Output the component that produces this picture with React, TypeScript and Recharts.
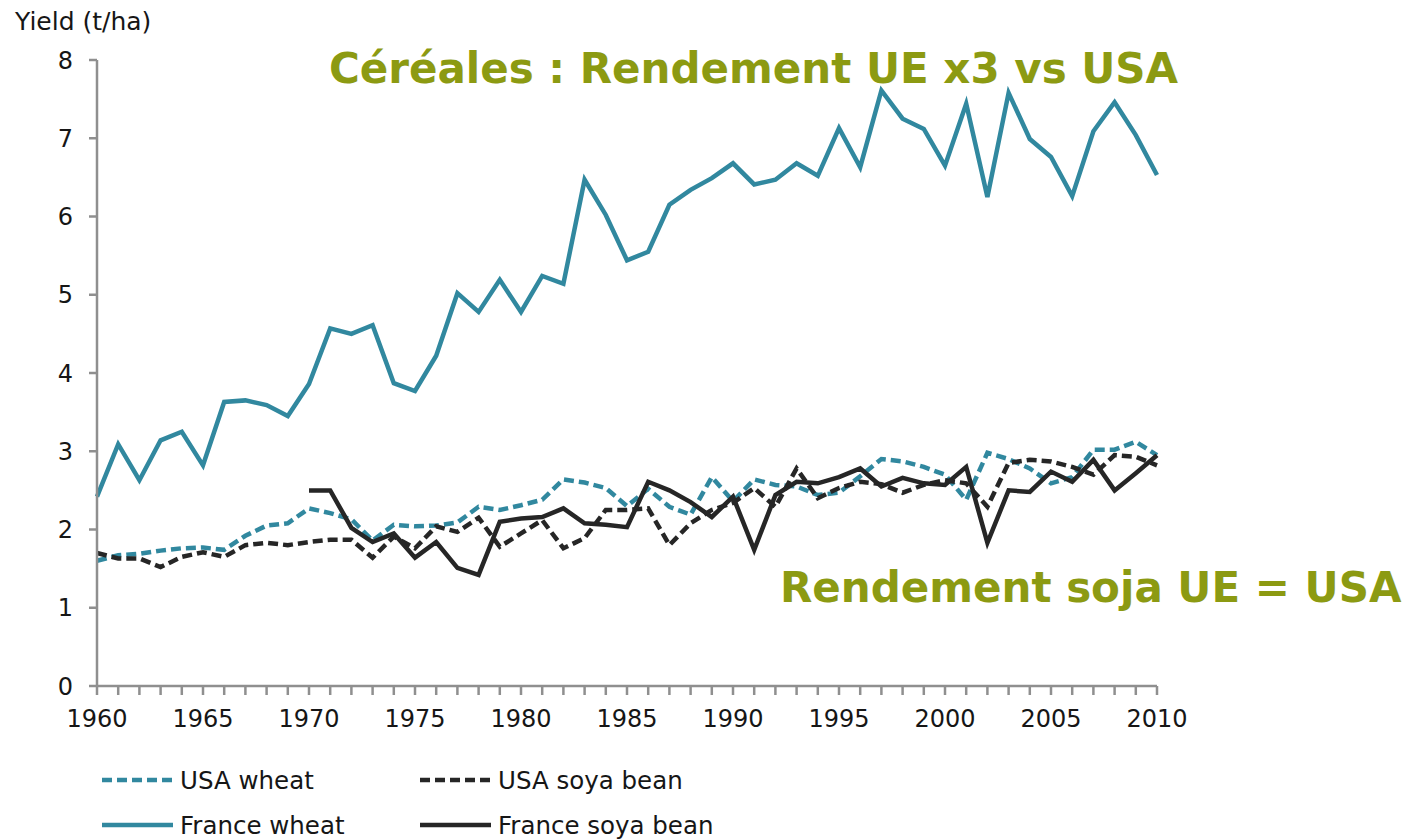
import React from 'react'
import { LineChart, Line, XAxis, YAxis } from 'recharts'

// categories
const years = [
  1960, 1961, 1962, 1963, 1964, 1965, 1966, 1967, 1968, 1969,
  1970, 1971, 1972, 1973, 1974, 1975, 1976, 1977, 1978, 1979,
  1980, 1981, 1982, 1983, 1984, 1985, 1986, 1987, 1988, 1989,
  1990, 1991, 1992, 1993, 1994, 1995, 1996, 1997, 1998, 1999,
  2000, 2001, 2002, 2003, 2004, 2005, 2006, 2007, 2008, 2009, 2010,
]

// yields in t/ha
const usaWheat = [
  1.6, 1.67, 1.69, 1.73, 1.76, 1.77, 1.74, 1.92, 2.05, 2.08,
  2.27, 2.21, 2.13, 1.86, 2.06, 2.04, 2.05, 2.09, 2.29, 2.25,
  2.31, 2.38, 2.64, 2.6, 2.53, 2.3, 2.52, 2.29, 2.19, 2.67,
  2.36, 2.64, 2.57, 2.55, 2.44, 2.47, 2.68, 2.9, 2.87, 2.8,
  2.7, 2.38, 2.98, 2.9, 2.78, 2.59, 2.67, 3.02, 3.02, 3.12, 2.95,
]
const usaSoya = [
  1.7, 1.63, 1.63, 1.52, 1.65, 1.71, 1.65, 1.8, 1.83, 1.8,
  1.84, 1.87, 1.87, 1.64, 1.91, 1.76, 2.04, 1.97, 2.15, 1.78,
  1.95, 2.12, 1.76, 1.89, 2.25, 2.25, 2.27, 1.8, 2.08, 2.25,
  2.34, 2.53, 2.29, 2.78, 2.4, 2.53, 2.61, 2.58, 2.47, 2.57,
  2.63, 2.59, 2.29, 2.85, 2.89, 2.87, 2.8, 2.7, 2.95, 2.93, 2.82,
]
const franceWheat = [
  2.42, 3.09, 2.63, 3.14, 3.25, 2.82, 3.63, 3.65, 3.59, 3.45,
  3.86, 4.57, 4.5, 4.61, 3.87, 3.77, 4.22, 5.02, 4.78, 5.19,
  4.78, 5.24, 5.14, 6.47, 6.02, 5.44, 5.55, 6.15, 6.34, 6.49,
  6.68, 6.41, 6.47, 6.68, 6.52, 7.13, 6.63, 7.61, 7.25, 7.12,
  6.65, 7.44, 6.25, 7.58, 6.99, 6.76, 6.26, 7.09, 7.46, 7.04, 6.53,
]
const franceSoya = [
  null, null, null, null, null, null, null, null, null, null,
  2.5, 2.5, 2.02, 1.84, 1.95, 1.64, 1.84, 1.51, 1.42, 2.1,
  2.14, 2.16, 2.27, 2.08, 2.06, 2.03, 2.61, 2.5, 2.35, 2.16,
  2.42, 1.74, 2.44, 2.61, 2.59, 2.67, 2.78, 2.55, 2.66, 2.59,
  2.57, 2.8, 1.83, 2.5, 2.48, 2.74, 2.61, 2.89, 2.5, 2.72, 2.95,
]

const yTicks = [0, 1, 2, 3, 4, 5, 6, 7, 8]

const TEAL = '#31889f'
const DARK = '#262626'
const OLIVE = '#8c9a12'
const AXIS = '#8f8f8f'
const TEXT = '#161616'
const FONT = '"DejaVu Sans", Verdana, sans-serif'

const data = years.map((y, i) => ({
  year: y,
  usaWheat: usaWheat[i],
  usaSoya: usaSoya[i],
  franceWheat: franceWheat[i],
  franceSoya: franceSoya[i],
}))

const legendItems = [
  { label: 'USA wheat', color: TEAL, dash: '10 5', x: 102, y: 780 },
  { label: 'USA soya bean', color: DARK, dash: '10 5', x: 420, y: 780 },
  { label: 'France wheat', color: TEAL, dash: undefined, x: 102, y: 825 },
  { label: 'France soya bean', color: DARK, dash: undefined, x: 420, y: 825 },
]

export default function App() {
  return (
    <div style={{ position: 'absolute', left: 0, top: 0, width: 1417, height: 839, background: '#fff' }}>
      <LineChart
        width={1417}
        height={839}
        data={data}
        margin={{ top: 60, right: 260, bottom: 113, left: 37 }}
      >
        <XAxis
          dataKey="year"
          type="number"
          domain={[1960, 2010]}
          ticks={years}
          interval={0}
          tickFormatter={(v: number) => (v % 5 === 0 ? String(v) : '')}
          height={40}
          stroke={AXIS}
          strokeWidth={2.5}
          tickSize={9}
          tickMargin={15}
          tick={{ fill: TEXT, fontSize: 24, fontFamily: FONT }}
        />
        <YAxis
          type="number"
          domain={[0, 8]}
          ticks={yTicks}
          interval={0}
          width={60}
          stroke={AXIS}
          strokeWidth={2.5}
          tickSize={8}
          tickMargin={16}
          tick={{ fill: TEXT, fontSize: 24, fontFamily: FONT }}
        />
        <Line
          dataKey="franceWheat"
          stroke={TEAL}
          strokeWidth={4.5}
          dot={false}
          isAnimationActive={false}
        />
        <Line
          dataKey="usaWheat"
          stroke={TEAL}
          strokeWidth={4.5}
          strokeDasharray="10 5"
          dot={false}
          isAnimationActive={false}
        />
        <Line
          dataKey="usaSoya"
          stroke={DARK}
          strokeWidth={4.5}
          strokeDasharray="10 5"
          dot={false}
          isAnimationActive={false}
        />
        <Line
          dataKey="franceSoya"
          stroke={DARK}
          strokeWidth={4.5}
          dot={false}
          connectNulls={false}
          isAnimationActive={false}
        />
      </LineChart>

      <svg
        width={1417}
        height={839}
        style={{ position: 'absolute', left: 0, top: 0, pointerEvents: 'none' }}
      >
        <text x={15} y={30} fontFamily={FONT} fontSize={25} fill={TEXT}>
          Yield (t/ha)
        </text>
        <text x={329} y={83} fontFamily={FONT} fontSize={42} fontWeight="bold" fill={OLIVE}>
          Céréales : Rendement UE x3 vs USA
        </text>
        <text x={780} y={602} fontFamily={FONT} fontSize={42} fontWeight="bold" fill={OLIVE}>
          Rendement soja UE = USA
        </text>
        {legendItems.map((item) => (
          <g key={item.label}>
            <line
              x1={item.x}
              x2={item.x + 71}
              y1={item.y}
              y2={item.y}
              stroke={item.color}
              strokeWidth={4.5}
              strokeDasharray={item.dash}
            />
            <text x={item.x + 78} y={item.y + 9} fontFamily={FONT} fontSize={24.5} fill={TEXT}>
              {item.label}
            </text>
          </g>
        ))}
      </svg>
    </div>
  )
}
